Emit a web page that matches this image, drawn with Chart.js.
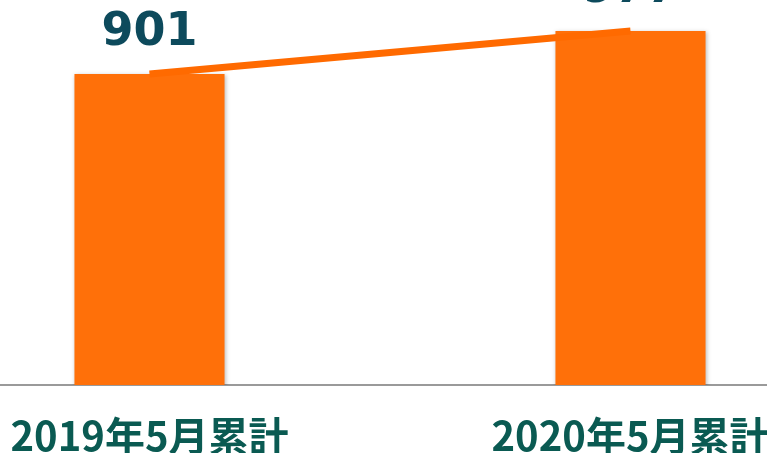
<!DOCTYPE html>
<html>
<head>
<meta charset="utf-8">
<script src="https://cdn.jsdelivr.net/npm/chart.js@4/dist/chart.umd.min.js"></script>
<style>
  html, body { margin: 0; padding: 0; background: #fff; overflow: hidden; }
  #wrap { position: absolute; left: -91px; top: 0; width: 962px; height: 453px; }
</style>
</head>
<body>
<div id="wrap"><canvas id="chart"></canvas></div>
<script>
const categories = ['2019年5月累計', '2020年5月累計'];
const barValues = [901, 977];
const lineValues = [901, 977];
const valueLabels = ['901', '977'];

// draws the big numbers above the bars
const valueLabelPlugin = {
  id: 'valueLabels',
  afterDatasetsDraw(chart) {
    const ctx = chart.ctx;
    const meta = chart.getDatasetMeta(1);
    ctx.save();
    ctx.font = 'bold 46px "DejaVu Sans"';
    ctx.fillStyle = '#0d4a5c';
    ctx.textAlign = 'center';
    ctx.textBaseline = 'alphabetic';
    meta.data.forEach((bar, i) => {
      ctx.fillText(valueLabels[i], bar.x, bar.y - 29);
    });
    ctx.restore();
  }
};

const barShadow = {
  id: 'barShadow',
  beforeDatasetDraw(chart, args) {
    if (args.index === 1) {
      chart.ctx.save();
      chart.ctx.shadowColor = 'rgba(0,0,0,0.25)';
      chart.ctx.shadowBlur = 4;
      chart.ctx.shadowOffsetX = 1;
      chart.ctx.shadowOffsetY = 1;
    }
  },
  afterDatasetDraw(chart, args) {
    if (args.index === 1) chart.ctx.restore();
  }
};

new Chart(document.getElementById('chart'), {
  data: {
    labels: categories,
    datasets: [
      {
        type: 'line',
        data: lineValues,
        borderColor: '#ff6a00',
        borderWidth: 7,
        pointRadius: 0,
        fill: false,
        order: 0
      },
      {
        type: 'bar',
        data: barValues,
        backgroundColor: '#ff7009',
        barPercentage: 0.312,
        categoryPercentage: 1,
        order: 1
      }
    ]
  },
  options: {
    responsive: true,
    maintainAspectRatio: false,
    animation: false,
    layout: { padding: 0 },
    plugins: {
      legend: { display: false },
      tooltip: { enabled: false }
    },
    scales: {
      x: {
        grid: { display: false },
        border: { color: '#9a9a9a', width: 2 },
        ticks: {
          color: '#0a5a52',
          padding: 19,
          font: { family: '"Noto Sans CJK JP"', size: 40, weight: 'bold' }
        },
        afterFit(scale) { scale.height = 68; }
      },
      y: {
        display: false,
        min: 350,
        max: 1032
      }
    }
  },
  plugins: [valueLabelPlugin, barShadow]
});
</script>
</body>
</html>
